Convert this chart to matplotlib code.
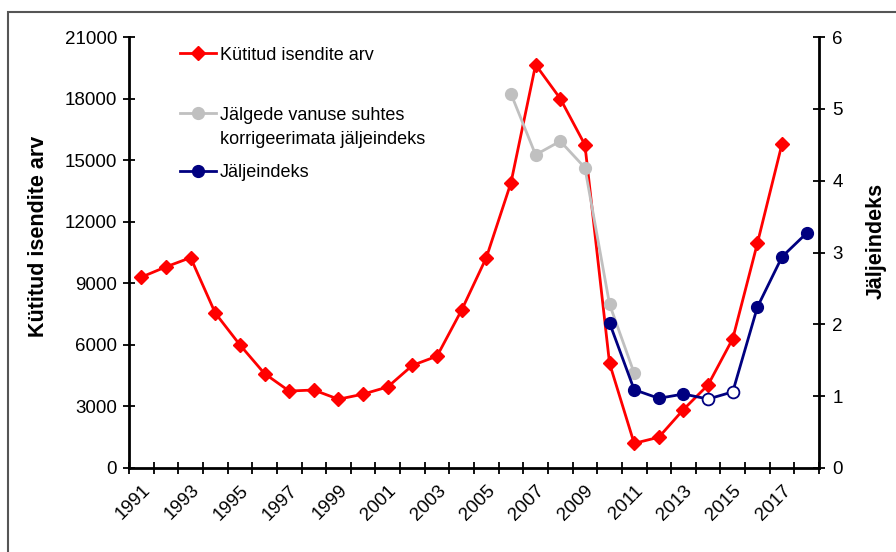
import matplotlib
matplotlib.use("Agg")
import matplotlib.pyplot as plt
from matplotlib.lines import Line2D
from matplotlib.patches import Rectangle

plt.rcParams["font.family"] = ["Liberation Sans", "DejaVu Sans"]

# Hunted animals per year (left axis)
years = list(range(1991, 2019))
hunted_years = list(range(1991, 2018))
hunted = [9300, 9800, 10250, 7550, 6000, 4600, 3750, 3800, 3350, 3600,
          3950, 5000, 5450, 7700, 10250, 13900, 19650, 18000, 15750, 5100,
          1200, 1500, 2850, 4050, 6300, 10950, 15800]

# Track index not corrected for track age (right axis)
raw_years = [2006, 2007, 2008, 2009, 2010, 2011]
raw_index = [5.21, 4.36, 4.55, 4.18, 2.28, 1.32]

# Track index (right axis); 2014 and 2015 shown as open markers
idx_years = [2010, 2011, 2012, 2013, 2014, 2015, 2016, 2017, 2018]
idx_values = [2.02, 1.09, 0.97, 1.03, 0.96, 1.06, 2.24, 2.94, 3.27]
idx_open = [False, False, False, False, True, True, False, False, False]

tick_years = list(range(1991, 2018, 2))

RED = "#FF0000"
GREY = "#C0C0C0"
NAVY = "#000080"
FS = 13.5
MS_D = 7
MS_O = 8.5

fig = plt.figure(figsize=(8.96, 5.52), dpi=100)
ax = fig.add_axes([129 / 896, 1 - 468 / 552, (819 - 129) / 896, (468 - 37) / 552])
ax2 = ax.twinx()

ax.plot(hunted_years, hunted, color=RED, lw=2, marker="D", ms=MS_D,
        mec=RED, mfc=RED, zorder=3)

ax2.plot(raw_years, raw_index, color=GREY, lw=2, marker="o", ms=MS_O,
         mec=GREY, mfc=GREY, zorder=3)

filled = [i for i, o in enumerate(idx_open) if not o]
ax2.plot(idx_years, idx_values, color=NAVY, lw=2, marker="o", ms=MS_O,
         mec=NAVY, mfc=NAVY, markevery=filled, zorder=4)
ax2.plot([y for y, o in zip(idx_years, idx_open) if o],
         [v for v, o in zip(idx_values, idx_open) if o],
         ls="none", marker="o", ms=MS_O, mec=NAVY, mfc="white", mew=1.3, zorder=5)

ax.set_xlim(years[0] - 0.5, years[-1] + 0.5)
ax.set_ylim(0, 21000)
ax2.set_ylim(0, 6)
ax.set_yticks(range(0, 21001, 3000))
ax2.set_yticks(range(0, 7))

# category boundaries get the tick marks, labels sit at every other year
ax.set_xticks([y - 0.5 for y in years] + [years[-1] + 0.5])
ax.set_xticklabels([])
ax.set_xticks(tick_years, minor=True)
ax.set_xticklabels([str(y) for y in tick_years], minor=True, rotation=45,
                   ha="right", va="top", rotation_mode="anchor", fontsize=FS)
ax.tick_params(axis="x", which="major", direction="inout", length=9, width=1.3)
ax.tick_params(axis="x", which="minor", length=0, pad=10)
ax.tick_params(axis="y", direction="inout", length=9, width=1.3, labelsize=FS, pad=4)
ax2.tick_params(axis="y", direction="inout", length=9, width=1.3, labelsize=FS, pad=5)

for a in (ax, ax2):
    a.spines["top"].set_visible(False)
    for side in ("left", "right", "bottom"):
        a.spines[side].set_linewidth(2)
ax.spines["right"].set_visible(False)
ax2.spines["left"].set_visible(False)
ax2.spines["bottom"].set_visible(False)

fig.text(38 / 896, 1 - 236 / 552, "Kütitud isendite arv", rotation=90,
         ha="center", va="center", fontsize=15.5, fontweight="bold")
fig.text(876 / 896, 1 - 241 / 552, "Jäljeindeks", rotation=90,
         ha="center", va="center", fontsize=15.5, fontweight="bold")

# legend keys, one row per series; extra label lines go 24 px lower
legend_rows = [
    (53, RED, "D", MS_D, ["Kütitud isendite arv"]),
    (113, GREY, "o", MS_O, ["Jälgede vanuse suhtes", "korrigeerimata jäljeindeks"]),
    (171, NAVY, "o", MS_O, ["Jäljeindeks"]),
]
for ypix, color, marker, ms, lines in legend_rows:
    yf = 1 - ypix / 552
    fig.add_artist(Line2D([180 / 896, 216 / 896], [yf, yf], color=color, lw=2,
                          transform=fig.transFigure))
    fig.add_artist(Line2D([198 / 896], [yf], color=color, marker=marker, ms=ms,
                          mec=color, mfc=color, transform=fig.transFigure))
    for i, text in enumerate(lines):
        fig.text(220 / 896, 1 - (ypix + 24 * i) / 552, text, ha="left",
                 va="center_baseline", fontsize=13)

# chart area border
fig.add_artist(Rectangle((8 / 896, -0.1), 1.2, 1 - 12 / 552 + 0.1,
                         transform=fig.transFigure, fill=False,
                         edgecolor="#555555", lw=1.5))

fig.savefig("out.png", dpi=100)
